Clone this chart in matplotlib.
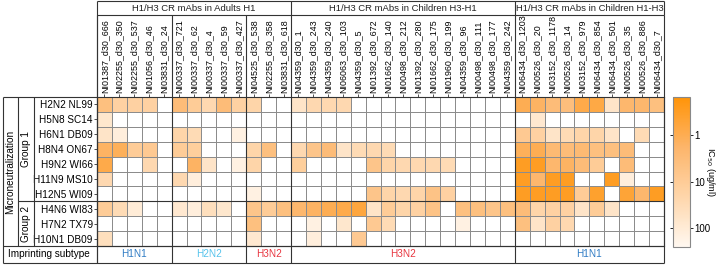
import numpy as np
import matplotlib
matplotlib.use('Agg')
from matplotlib import pyplot as plt
from matplotlib.colors import LogNorm, LinearSegmentedColormap

plt.rcParams['font.family'] = ['Liberation Sans', 'DejaVu Sans']

nan = np.nan

viruses = ['H2N2 NL99', 'H5N8 SC14', 'H6N1 DB09', 'H8N4 ON67', 'H9N2 WI66',
           'H11N9 MS10', 'H12N5 WI09', 'H4N6 WI83', 'H7N2 TX79', 'H10N1 DB09']

mabs_adults = ['NI01387_d30_666', 'NI02255_d30_350', 'NI02255_d30_537', 'NI01056_d30_46',
               'NI03831_d30_24', 'NI00337_d30_721', 'NI00337_d30_62', 'NI00337_d30_4',
               'NI00337_d30_59', 'NI00337_d30_427', 'NI04525_d30_538', 'NI02255_d30_358',
               'NI03831_d30_618']
mabs_h3h1 = ['NI04359_d30_1', 'NI04359_d30_243', 'NI04359_d30_240', 'NI06063_d30_103',
             'NI04359_d30_5', 'NI01392_d30_672', 'NI01662_d30_140', 'NI00498_d30_212',
             'NI01392_d30_280', 'NI01662_d30_175', 'NI01960_d30_199', 'NI04359_d30_96',
             'NI00498_d30_111', 'NI00498_d30_177', 'NI04359_d30_242']
mabs_h1h3 = ['NI06434_d30_1203', 'NI00526_d30_20', 'NI03152_d30_1178', 'NI00526_d30_14',
             'NI03152_d30_979', 'NI06434_d30_854', 'NI06434_d30_501', 'NI00526_d30_35',
             'NI00526_d30_886', 'NI06434_d30_7']

cohorts = ['H1/H3 CR mAbs in Adults H1', 'H1/H3 CR mAbs in Children H3-H1',
           'H1/H3 CR mAbs in Children H1-H3']
imprint_names = ['H1N1', 'H2N2', 'H3N2', 'H3N2', 'H1N1']
imprint_sizes = [5, 5, 3, 15, 10]
imprint_colors = ['#2e7bc4', '#55c3ec', '#e8353f', '#e8353f', '#2e7bc4']

# IC50 (ug/ml), nan = not neutralizing (white)
h2n2_nl99 = [4, 15, 15, 15, nan, 3, 10, 25, 3, 15, 20, nan, nan,
             60, 25, 25, 25, nan, nan, nan, nan, nan, nan, nan, nan, nan, nan, nan,
             1, 1.5, 3, 3.5, 0.8, 0.7, 60, 2, 2, 4]
h5n8_sc14 = [70, nan, nan, nan, nan, nan, nan, nan, nan, nan, nan, nan, nan,
             nan, nan, nan, nan, nan, nan, nan, nan, nan, nan, nan, nan, nan, nan, nan,
             nan, 80, nan, nan, nan, nan, nan, nan, nan, nan]
h6n1_db09 = [60, 120, nan, nan, nan, 20, 30, nan, nan, 150, nan, nan, nan,
             nan, nan, nan, nan, nan, nan, nan, nan, nan, nan, nan, nan, nan, nan, nan,
             8, 15, 60, 30, 20, 20, 60, nan, 30, nan]
h8n4_on67 = [1.5, 1.2, 10, 8, nan, 10, 12, nan, nan, nan, 20, 4, nan,
             25, 6, 3, 60, 30, 25, 30, nan, nan, nan, nan, nan, nan, nan, nan,
             1.2, 1, 2.5, 3, 2.5, 4, 4, 3, nan, nan]
h9n2_wi66 = [0.8, nan, nan, 25, nan, nan, 1.5, 60, nan, 150, 20, nan, nan,
             12, nan, nan, nan, nan, 6, 20, 25, 25, 25, 30, nan, nan, nan, nan,
             0.3, 0.3, 2, 1.5, 3, 10, nan, 3, nan, nan]
h11n9_ms10 = [25, nan, nan, nan, nan, 25, 120, nan, nan, nan, nan, nan, nan,
              nan, nan, nan, nan, nan, nan, nan, nan, nan, nan, nan, nan, nan, nan, nan,
              0.3, 2, 0.3, 0.3, nan, nan, 0.3, 120, nan, nan]
h12n5_wi09 = [nan, nan, nan, nan, nan, nan, nan, nan, nan, nan, 150, nan, nan,
              nan, nan, nan, nan, nan, 6, 20, 25, 20, 5, 15, nan, nan, nan, nan,
              0.3, 0.3, 0.3, 0.3, 10, 0.4, nan, 0.5, 2, 0.3]
h4n6_wi83 = [10, 30, 100, nan, nan, 80, 120, 40, 70, nan, 6, 10, 4,
             2, 1.5, 1, 0.8, 0.6, 60, 10, 20, 15, 5, nan, 4, 4, 6, 4,
             3, 20, 15, 15, 60, 10, 60, nan, nan, nan]
h7n2_tx79 = [nan, nan, nan, nan, nan, nan, nan, nan, nan, nan, 4, nan, nan,
             nan, 150, nan, 70, nan, 8, 30, nan, nan, nan, nan, 150, nan, nan, nan,
             4, 60, 15, 25, nan, nan, nan, nan, nan, nan]
h10n1_db09 = [40, nan, nan, nan, nan, nan, nan, nan, nan, nan, 80, nan, nan,
              nan, 120, nan, nan, 8, nan, nan, nan, nan, nan, nan, nan, nan, nan, nan,
              nan, nan, nan, nan, nan, nan, nan, nan, nan, nan]

data = np.array([h2n2_nl99, h5n8_sc14, h6n1_db09, h8n4_on67, h9n2_wi66,
                 h11n9_ms10, h12n5_wi09, h4n6_wi83, h7n2_tx79, h10n1_db09], dtype=float)
mabs = mabs_adults + mabs_h3h1 + mabs_h1h3
nrow, ncol = data.shape

cmap = LinearSegmentedColormap.from_list('ic', ['#ff9408', '#fdb56a', '#fed6ab', '#fff8f0'])
cmap.set_bad('white')
norm = LogNorm(vmin=0.15, vmax=250)

fig = plt.figure(figsize=(7.2, 2.66), dpi=100)
ax = fig.add_axes([97 / 720, 1 - 246 / 266, 567 / 720, 149 / 266])
mesh = ax.pcolormesh(np.ma.masked_invalid(data), cmap=cmap, norm=norm,
                     edgecolors='#8c8c8c', linewidth=0.7)
ax.set_xlim(0, ncol)
ax.set_ylim(nrow, 0)
for s in ax.spines.values():
    s.set_color('#333333')
    s.set_linewidth(0.8)

ax.set_yticks(np.arange(nrow) + 0.5)
ax.set_yticklabels(viruses, fontsize=7.2)
ax.set_xticks(np.arange(ncol) + 0.5)
ax.set_xticklabels(mabs, fontsize=6.4, rotation=90)
ax.tick_params(axis='x', top=True, bottom=False, labeltop=True, labelbottom=False,
               length=2, width=0.6, pad=1, color='#333333')
ax.tick_params(axis='y', length=2, width=0.6, pad=1, color='#333333')


def line(x, y, lw=0.8, c='#333333'):
    ax.plot(x, y, color=c, lw=lw, clip_on=False, solid_capstyle='butt')


# column boundaries
cuts = np.cumsum([0] + imprint_sizes)
for c in cuts:
    line([c, c], [-5.5, 11.14])
line([0, 0], [-6.44, 11.14])
for c in [13, 28, 38]:
    line([c, c], [-6.44, -5.5])
line([0, 38], [-6.44, -6.44])
line([0, 38], [-5.5, -5.5])
line([-6.3, 38], [11.14, 11.14])
line([-6.3, 38], [10, 10])
line([-6.3, 0], [0, 0])
line([-5.29, 38], [7, 7])
line([-6.3, -6.3], [0, 11.14])
line([-5.29, -5.29], [0, 10])
line([-4.22, -4.22], [0, 10])

tstarts = [0, 13, 28, 38]
for i, t in enumerate(cohorts):
    ax.text((tstarts[i] + tstarts[i + 1]) / 2, -5.97, t, ha='center', va='center',
            fontsize=6.8, color='#222222')

for i, name in enumerate(imprint_names):
    ax.text((cuts[i] + cuts[i + 1]) / 2, 10.57, name, ha='center', va='center',
            fontsize=7.2, color=imprint_colors[i])

ax.text(-3.2, 10.57, 'Imprinting subtype', ha='center', va='center', fontsize=7.2)
ax.text(-5.8, 5, 'Microneutralization', ha='center', va='center', rotation=90, fontsize=7.2)
ax.text(-4.75, 3.5, 'Group 1', ha='center', va='center', rotation=90, fontsize=7.2)
ax.text(-4.75, 8.5, 'Group 2', ha='center', va='center', rotation=90, fontsize=7.2)

cax = fig.add_axes([673 / 720, 1 - 247 / 266, 17 / 720, 150 / 266])
cb = fig.colorbar(mesh, cax=cax)
cb.ax.invert_yaxis()
cb.set_ticks([1, 10, 100])
cb.set_ticklabels(['1', '10', '100'])
cb.ax.minorticks_off()
cb.ax.tick_params(labelsize=7, length=2, width=0.6, pad=1, left=True)
cb.outline.set_edgecolor('#888888')
cb.outline.set_linewidth(0.8)
cb.set_label('IC$_{50}$ (ug/ml)', rotation=270, fontsize=6.6, labelpad=5)

fig.savefig('out.png', dpi=100)
